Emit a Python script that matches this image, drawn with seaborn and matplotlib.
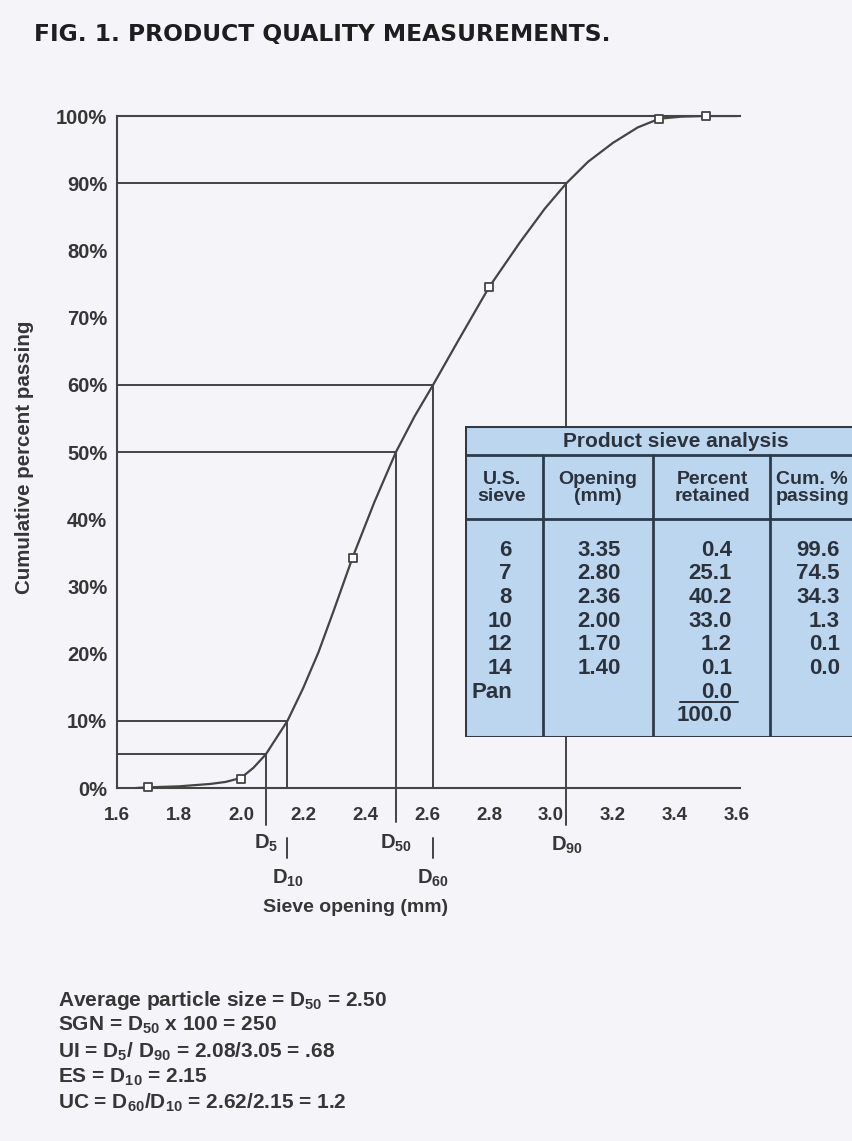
import matplotlib
matplotlib.use("Agg")
import matplotlib.pyplot as plt
from matplotlib import font_manager
from matplotlib.patches import Rectangle
import seaborn as sns
import pandas as pd

# product sieve analysis table
us_sieve = ["6", "7", "8", "10", "12", "14", "Pan"]
opening_mm = [3.35, 2.80, 2.36, 2.00, 1.70, 1.40, None]
pct_retained = [0.4, 25.1, 40.2, 33.0, 1.2, 0.1, 0.0]
cum_passing = [99.6, 74.5, 34.3, 1.3, 0.1, 0.0, None]
total_retained = 100.0

# extra square at the top of the curve
top_x = [3.50]
top_y = [100.0]

# smooth curve
curve_x = [1.66, 1.70, 1.80, 1.90, 1.95, 2.00, 2.04, 2.08, 2.15, 2.20, 2.25, 2.30, 2.36,
           2.43, 2.50, 2.56, 2.62, 2.70, 2.80, 2.90, 2.98, 3.05, 3.12, 3.20, 3.28, 3.35,
           3.42, 3.50, 3.60]
curve_y = [0.0, 0.1, 0.25, 0.6, 0.9, 1.5, 3.0, 5.0, 10.0, 14.8, 20.2, 26.5, 34.3,
           42.5, 50.0, 55.3, 60.0, 66.5, 74.5, 81.2, 86.2, 90.0, 93.2, 96.0, 98.3, 99.6,
           99.9, 100.0, 100.0]

# characteristic sizes
d_names = ["5", "10", "50", "60", "90"]
d_pct = [5, 10, 50, 60, 90]
d_mm = [2.08, 2.15, 2.50, 2.62, 3.05]

x_ticks = [1.6, 1.8, 2.0, 2.2, 2.4, 2.6, 2.8, 3.0, 3.2, 3.4, 3.6]
y_ticks = [0, 10, 20, 30, 40, 50, 60, 70, 80, 90, 100]

summary_lines = [
    "Average particle size = D$_{50}$ = 2.50",
    "SGN = D$_{50}$ x 100 = 250",
    "UI = D$_{5}$/ D$_{90}$ = 2.08/3.05 = .68",
    "ES = D$_{10}$ = 2.15",
    "UC = D$_{60}$/D$_{10}$ = 2.62/2.15 = 1.2",
]


def pick_font(names):
    for n in names:
        try:
            font_manager.findfont(font_manager.FontProperties(family=n), fallback_to_default=False)
            return n
        except Exception:
            pass
    return "DejaVu Sans"


sns.set_theme(style="white")
FONT = pick_font(["Liberation Sans", "DejaVu Sans"])
plt.rcParams["font.family"] = [FONT, "DejaVu Sans"]
plt.rcParams["font.weight"] = "bold"
plt.rcParams["mathtext.fontset"] = "custom"
plt.rcParams["mathtext.rm"] = FONT + ":bold"
plt.rcParams["mathtext.default"] = "rm"

INK = "#363636"
LINE = "#444444"
BG = "#f5f5f9"
W, H = 853, 1141


def fx(x):
    return x / W


def fy(y):
    return 1 - y / H


fig = plt.figure(figsize=(W / 100, H / 100), dpi=100, facecolor=BG)

# title, stretched to the width it has in the scan
title = fig.text(fx(34), fy(34), "FIG. 1. PRODUCT QUALITY MEASUREMENTS.", ha="left", va="center",
                 fontsize=16, fontweight="heavy", color="#1e1e1e", family="DejaVu Sans")
fig.canvas.draw()
bb = title.get_window_extent(fig.canvas.get_renderer())
title.set_fontsize(16 * 578 / bb.width)

ax = fig.add_axes([fx(117), fy(788), (740 - 117) / W, (788 - 116) / H])
ax.set_facecolor("none")

curve = pd.DataFrame({"opening": curve_x, "passing": curve_y})
sns.lineplot(data=curve, x="opening", y="passing", sort=False, color=LINE, lw=1.6, ax=ax, zorder=3)

# reference lines for D values
v_end = {"5": -5.5, "10": 0, "50": -5.0, "60": 0, "90": -5.5}
lab_y = {"5": -8.3, "10": -13.4, "50": -8.3, "60": -13.5, "90": -8.6}
for name, pct, mm in zip(d_names, d_pct, d_mm):
    ax.plot([1.6, mm], [pct, pct], color=LINE, lw=1.4, zorder=2)
    ax.plot([mm, mm], [pct, v_end[name]], color=LINE, lw=1.4, zorder=2, clip_on=False)
    if name in ("10", "60"):
        ax.plot([mm, mm], [-7.4, -10.4], color=LINE, lw=1.4, clip_on=False)
    ax.text(mm, lab_y[name], "D$_{%s}$" % name, ha="center", va="center", fontsize=14.5, color=INK)

pts = pd.DataFrame({"opening": opening_mm[:6] + top_x, "passing": cum_passing[:6] + top_y})
pts = pts[pts["opening"] >= 1.6]
sns.scatterplot(data=pts, x="opening", y="passing", marker="s", s=40, facecolor="white",
                edgecolor=LINE, linewidth=1.3, ax=ax, zorder=4, clip_on=False)

ax.set_xlim(1.6, 3.61)
ax.set_ylim(0, 100)
ax.set_xticks(x_ticks)
ax.set_xticklabels([f"{t:.1f}" for t in x_ticks])
ax.set_yticks(y_ticks)
ax.set_yticklabels([f"{t}%" for t in y_ticks])
ax.tick_params(axis="x", length=0, pad=14, labelsize=13.5, labelcolor=INK)
ax.tick_params(axis="y", length=0, pad=7, labelsize=14.5, labelcolor=INK)
ax.set_xlabel("")
ax.set_ylabel("")
for side in ("left", "bottom", "top"):
    ax.spines[side].set_color(LINE)
    ax.spines[side].set_linewidth(1.5)
ax.spines["right"].set_visible(False)

fig.text(fx(25), fy(457), "Cumulative percent passing", rotation=90, ha="center", va="center",
         fontsize=14.8, color=INK)
fig.text(fx(356), fy(907), "Sieve opening (mm)", ha="center", va="center", fontsize=14, color=INK)

# inset table, in pixel units, running off the right edge like the scan
tx0, tx1, ty0, ty1 = 465, 905, 426, 737
tax = fig.add_axes([fx(tx0), fy(ty1), (tx1 - tx0) / W, (ty1 - ty0) / H])
tax.set_xlim(tx0, tx1)
tax.set_ylim(ty1, ty0)
tax.axis("off")
EDGE = "#2e3a48"
tax.add_patch(Rectangle((tx0, ty0), tx1 - tx0, ty1 - ty0, facecolor="#bcd6f0", edgecolor=EDGE, lw=2.2))
tax.plot([tx0, tx1], [455, 455], color=EDGE, lw=2)
tax.plot([tx0, tx1], [519, 519], color=EDGE, lw=2)
for cx in (543, 653, 770):
    tax.plot([cx, cx], [455, ty1], color=EDGE, lw=2)

TC = "#2c323c"
tax.text(676, 441, "Product sieve analysis", ha="center", va="center", fontsize=15, color=TC)
headers = [("U.S.\nsieve", 502, "center"), ("Opening\n(mm)", 598, "center"),
           ("Percent\nretained", 712, "center"), ("Cum. %\npassing", 776, "left")]
for txt, cx, ha in headers:
    tax.text(cx, 488, txt, ha=ha, va="center", fontsize=14, color=TC, linespacing=0.95)

FS = 16
row0, dy = 550, 23.7
for i in range(len(us_sieve)):
    y = row0 + i * dy
    tax.text(512, y, us_sieve[i], ha="right", va="center", fontsize=FS, color=TC)
    if opening_mm[i] is not None:
        tax.text(621, y, f"{opening_mm[i]:.2f}", ha="right", va="center", fontsize=FS, color=TC)
    tax.text(732, y, f"{pct_retained[i]:.1f}", ha="right", va="center", fontsize=FS, color=TC)
    if cum_passing[i] is not None:
        tax.text(840, y, f"{cum_passing[i]:.1f}", ha="right", va="center", fontsize=FS, color=TC)
last = row0 + (len(us_sieve) - 1) * dy
tax.plot([680, 738], [last + 9.5, last + 9.5], color=TC, lw=1.4)
tax.text(732, last + dy, f"{total_retained:.1f}", ha="right", va="center", fontsize=FS, color=TC)

for i, line in enumerate(summary_lines):
    fig.text(fx(58), fy(1000 + i * 25.8), line, ha="left", va="center", fontsize=15, color=INK)

fig.savefig("out.png", dpi=100, facecolor=BG)
